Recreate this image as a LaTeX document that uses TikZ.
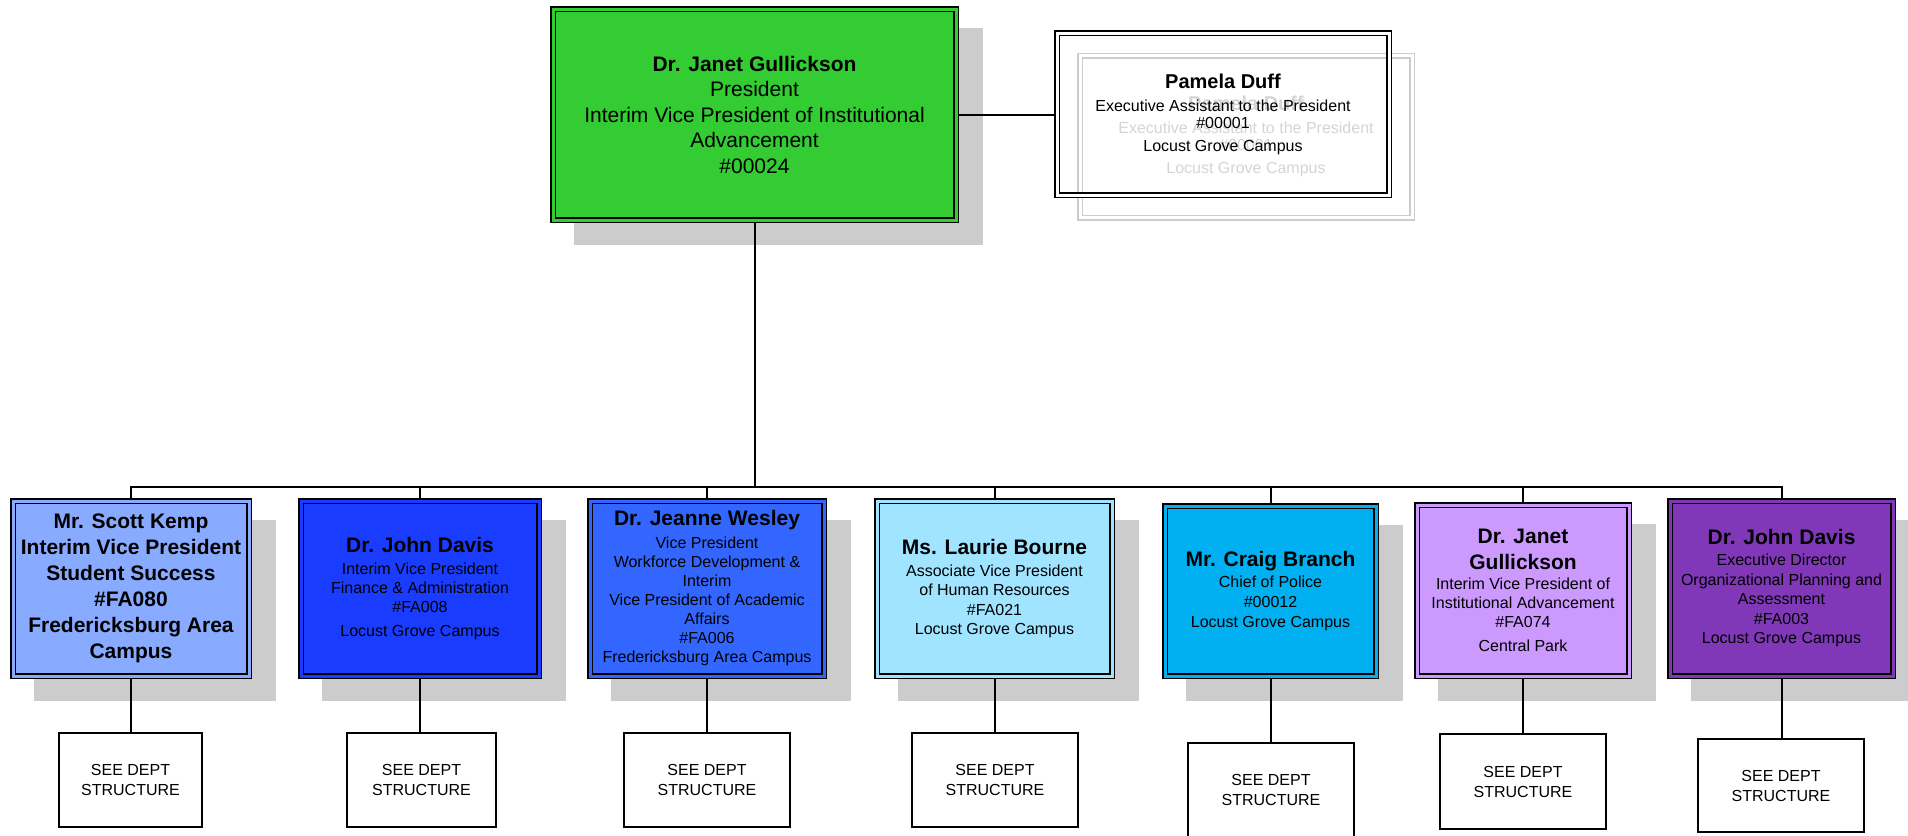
\documentclass[tikz,border=0pt]{standalone}
\usepackage{fontspec}
\setmainfont{Liberation Sans}
\pgfdeclarelayer{shadowlayer}
\pgfdeclarelayer{linelayer}
\pgfsetlayers{shadowlayer,linelayer,main}
\definecolor{cGreen}{HTML}{33CC33}
\definecolor{cOne}{HTML}{88AAFF}
\definecolor{cTwo}{HTML}{1A3CFF}
\definecolor{cThree}{HTML}{3366FF}
\definecolor{cFour}{HTML}{A0E4FF}
\definecolor{cFive}{HTML}{00B0F0}
\definecolor{cSix}{HTML}{CC99FF}
\definecolor{cSeven}{HTML}{8038B8}
\definecolor{shadowgray}{HTML}{CCCCCC}
\newcommand\onamef{\bfseries\fontsize{21}{21}\selectfont}
\tikzset{
  vbox/.style={draw=black, line width=1.5pt, double=#1, double distance=3pt, fill=#1,
    inner sep=0pt, outer sep=0pt, align=center, text=black},
  dept/.style={draw=black, line width=2pt, fill=white, inner sep=0pt, outer sep=0pt,
    align=center, font=\fontsize{16}{20}\selectfont},
  conn/.style={draw=black, line width=2pt},
  shad/.style={fill=shadowgray},
}
\begin{document}
\begin{tikzpicture}[x=1pt,y=-1pt]
\useasboundingbox (0,0) rectangle (1908,835);

% top
\node[vbox=cGreen, minimum width=403, minimum height=211,
  font=\fontsize{21}{25.5}\selectfont] (P) at (754.5,114.5)
  {\textbf{Dr. Janet Gullickson}\\President\\Interim Vice President of Institutional\\Advancement\\\#00024};

% ghost of assistant box
\node[draw=black!20, line width=1.5pt, double=white, double distance=3pt,
  inner sep=0pt, outer sep=0pt, align=center, text=black!17,
  minimum width=332, minimum height=162, font=\fontsize{16}{17}\selectfont] (PG) at (1246,136.5)
  {{\bfseries\fontsize{20}{20}\selectfont Pamela Duff}\\[6pt]Executive Assistant to the President\\\#00001\\[6pt]Locust Grove Campus};

\node[draw=black, line width=1.5pt, double=white, double distance=3pt,
  inner sep=0pt, outer sep=0pt, align=center, text=black,
  minimum width=332, minimum height=162, font=\fontsize{16}{17}\selectfont] (PA) at (1223,114)
  {{\bfseries\fontsize{20}{20}\selectfont Pamela Duff}\\[6pt]Executive Assistant to the President\\\#00001\\[6pt]Locust Grove Campus};

% second level
\node[vbox=cOne, minimum width=236, minimum height=175,
  font=\bfseries\fontsize{21}{26}\selectfont] (v1) at (131,588.5)
  {Mr. Scott Kemp\\Interim Vice President\\Student Success\\\#FA080\\Fredericksburg Area\\Campus};

\node[vbox=cTwo, minimum width=238, minimum height=175,
  font=\fontsize{16}{19}\selectfont] (v2) at (420,588.5)
  {{\onamef Dr. John Davis}\\[3pt]Interim Vice President\\Finance \& Administration\\\#FA008\\[5pt]Locust Grove Campus};

\node[vbox=cThree, minimum width=234, minimum height=175,
  font=\fontsize{16}{19}\selectfont] (v3) at (707,588.5)
  {{\onamef Dr. Jeanne Wesley}\\[4pt]Vice President\\Workforce Development \&\\Interim\\Vice President of Academic\\Affairs\\\#FA006\\Fredericksburg Area Campus};

\node[vbox=cFour, minimum width=235, minimum height=175,
  font=\fontsize{16}{19.5}\selectfont] (v4) at (994.5,588.5)
  {{\onamef Ms. Laurie Bourne}\\[2.5pt]Associate Vice President\\of Human Resources\\\#FA021\\Locust Grove Campus};

\node[vbox=cFive, minimum width=211, minimum height=170,
  font=\fontsize{16}{20}\selectfont] (v5) at (1270.5,591)
  {{\onamef Mr. Craig Branch}\\[1pt]Chief of Police\\\#00012\\Locust Grove Campus};

\node[vbox=cSix, minimum width=212, minimum height=171,
  font=\fontsize{16}{19}\selectfont] (v6) at (1523,590.5)
  {{\onamef Dr. Janet}\\[7pt]{\onamef Gullickson}\\[1pt]Interim Vice President of\\Institutional Advancement\\\#FA074\\[5pt]Central Park};

\node[vbox=cSeven, minimum width=223, minimum height=175,
  font=\fontsize{16}{19.5}\selectfont] (v7) at (1781.5,588.5)
  {{\onamef Dr. John Davis}\\[1.5pt]Executive Director\\Organizational Planning and\\Assessment\\\#FA003\\Locust Grove Campus};

% department boxes
\node[dept, minimum width=143, minimum height=94] (d1) at (130.5,780) {SEE DEPT\\STRUCTURE};
\node[dept, minimum width=149, minimum height=94] (d2) at (421.5,780) {SEE DEPT\\STRUCTURE};
\node[dept, minimum width=166, minimum height=94] (d3) at (707,780) {SEE DEPT\\STRUCTURE};
\node[dept, minimum width=166, minimum height=94] (d4) at (995,780) {SEE DEPT\\STRUCTURE};
\node[dept, minimum width=166, minimum height=94] (d5) at (1271,790) {SEE DEPT\\STRUCTURE};
\node[dept, minimum width=166, minimum height=95] (d6) at (1523,781.5) {SEE DEPT\\STRUCTURE};
\node[dept, minimum width=166, minimum height=93] (d7) at (1781,785.5) {SEE DEPT\\STRUCTURE};

\coordinate (bus) at (754.5,487);

\begin{pgfonlayer}{shadowlayer}
  \foreach \n in {P,v1,v2,v3,v4,v5,v6,v7}{
    \fill[shad] ([shift={(21,19)}]\n.north west) rectangle ([shift={(27,25)}]\n.south east);
  }
\end{pgfonlayer}

\begin{pgfonlayer}{linelayer}
  \draw[conn] (P.south) -- (bus);
  \draw[conn] (P.east) -- (P.east -| PA.west);
  \foreach \i in {1,...,7}{
    \draw[conn] (v\i.north) |- (bus);
    \draw[conn] (v\i.south) -- (v\i.south |- d\i.north);
  }
\end{pgfonlayer}
\end{tikzpicture}
\end{document}
